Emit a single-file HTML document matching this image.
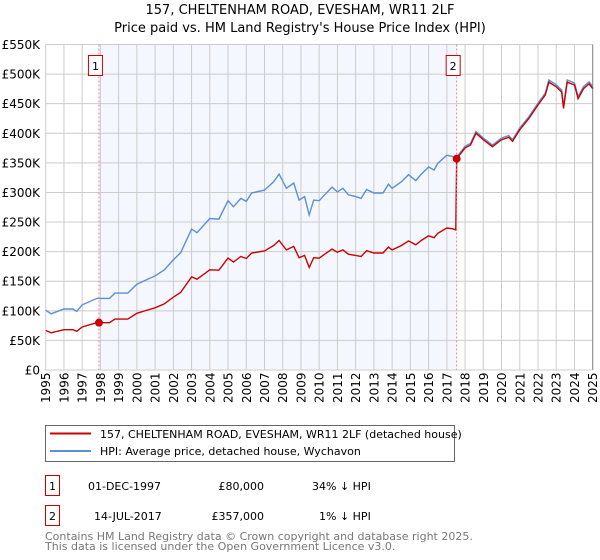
<!DOCTYPE html>
<html><head><meta charset="utf-8"><style>
body{margin:0;background:#fff;width:600px;height:560px;overflow:hidden;font-family:"DejaVu Sans","Liberation Sans",sans-serif}
svg{display:block}
</style></head><body>
<svg id="chart" width="600" height="560" xmlns="http://www.w3.org/2000/svg" font-family="DejaVu Sans, Liberation Sans, sans-serif">
<text x="300" y="14" text-anchor="middle" font-size="13">157, CHELTENHAM ROAD, EVESHAM, WR11 2LF</text>
<text x="300" y="32" text-anchor="middle" font-size="13">Price paid vs. HM Land Registry's House Price Index (HPI)</text>
<g id="plot"></g>
<g>
<rect x="45.5" y="425.5" width="409" height="36" fill="#fff" stroke="#666"/>
<line x1="50" y1="433.5" x2="91" y2="433.5" stroke="#cc0000" stroke-width="2"/>
<text x="100" y="438" font-size="11">157, CHELTENHAM ROAD, EVESHAM, WR11 2LF (detached house)</text>
<line x1="50" y1="451" x2="91" y2="451" stroke="#5b8fd6" stroke-width="2"/>
<text x="100" y="455" font-size="11">HPI: Average price, detached house, Wychavon</text>
</g>
<g font-size="11">
<rect x="45.5" y="475.5" width="14" height="20" fill="#fff" stroke="#cc0000"/>
<text x="52.5" y="490" text-anchor="middle">1</text>
<text x="88" y="490">01-DEC-1997</text>
<text x="264" y="490" text-anchor="end">£80,000</text>
<text x="312" y="490">34% ↓ HPI</text>
<rect x="45.5" y="505.5" width="14" height="20" fill="#fff" stroke="#cc0000"/>
<text x="52.5" y="520" text-anchor="middle">2</text>
<text x="94" y="520">14-JUL-2017</text>
<text x="264" y="520" text-anchor="end">£357,000</text>
<text x="319" y="520">1% ↓ HPI</text>
</g>
<g font-size="11" fill="#777">
<text x="45" y="540">Contains HM Land Registry data © Crown copyright and database right 2025.</text>
<text x="45" y="550">This data is licensed under the Open Government Licence v3.0.</text>
</g>
</svg>
<script>
const hpiYears=[1995,1995.3,1996,1996.5,1996.7,1997,1997.8,1998.5,1998.8,1999.5,2000,2000.5,2001,2001.5,2002,2002.4,2003,2003.3,2004,2004.5,2005,2005.3,2005.7,2006,2006.3,2007,2007.5,2007.8,2008.2,2008.6,2008.9,2009.2,2009.45,2009.7,2010,2010.3,2010.7,2011,2011.3,2011.6,2012,2012.3,2012.6,2013,2013.5,2013.8,2014,2014.5,2014.9,2015.3,2015.6,2016,2016.3,2016.5,2017,2017.3,2017.5,2018,2018.3,2018.6,2019,2019.5,2020,2020.4,2020.6,2021,2021.5,2022,2022.4,2022.6,2023,2023.3,2023.4,2023.6,2024,2024.2,2024.5,2024.8,2025];
const hpiValues=[101,95,103,103,99,110,121,121,130,130,145,152,159,169,186,198,238,232,256,255,286,276,290,285,299,304,318,331,307,316,287,293,262,287,286,296,309,301,307,296,293,290,305,299,299,314,307,318,330,320,331,343,338,349,363,361,358,378,383,403,392,380,392,396,389,409,428,451,468,490,482,473,445,490,485,462,479,487,479];
const saleYears=[1997.92,2017.54];
const salePrices=[80,357];
const yTicks=[0,50,100,150,200,250,300,350,400,450,500,550];
const yTickLabels=["£0","£50K","£100K","£150K","£200K","£250K","£300K","£350K","£400K","£450K","£500K","£550K"];
const xTicks=[1995,1996,1997,1998,1999,2000,2001,2002,2003,2004,2005,2006,2007,2008,2009,2010,2011,2012,2013,2014,2015,2016,2017,2018,2019,2020,2021,2022,2023,2024,2025];

const X0=45.7,X1=592.7,Y0=370,Y1=44.5;
const xs=y=>X0+(y-1995)/30*(X1-X0);
const ys=v=>Y0-v/550*(Y0-Y1);
const NS="http://www.w3.org/2000/svg";
const plot=document.getElementById('plot');
function mk(t,a,p){const e=document.createElementNS(NS,t);for(const k in a)e.setAttribute(k,a[k]);(p||plot).appendChild(e);return e;}
function hpiAt(y){for(let i=1;i<hpiYears.length;i++){if(y<=hpiYears[i]){const t=(y-hpiYears[i-1])/(hpiYears[i]-hpiYears[i-1]);return hpiValues[i-1]+t*(hpiValues[i]-hpiValues[i-1]);}}return hpiValues[hpiValues.length-1];}

const shade=mk('rect',{x:xs(saleYears[0]),y:Y1,width:xs(saleYears[1])-xs(saleYears[0]),height:Y0-Y1,fill:'#f4f7fe'});


const grid=mk('g',{stroke:'#cccccc','stroke-width':1});


yTicks.forEach((v,i)=>{
 mk('line',{x1:X0,x2:X1,y1:ys(v),y2:ys(v)},grid);
 const t=mk('text',{x:40,y:ys(v)+4.5,'text-anchor':'end','font-size':12});
 t.textContent=yTickLabels[i];
 
 
});
xTicks.forEach(y=>{
 mk('line',{x1:xs(y),x2:xs(y),y1:Y1,y2:Y0},grid);
 const t=mk('text',{transform:`translate(${xs(y)+4.5},${Y0+33}) rotate(-90)`,'font-size':12});
 t.textContent=y;
 
 
});
mk('line',{x1:X1,x2:X1,y1:Y1,y2:Y0,stroke:'#888'});
const hp=hpiYears.map((y,i)=>`${xs(y).toFixed(1)},${ys(hpiValues[i]).toFixed(1)}`).join(' ');
const hl=mk('polyline',{points:hp,fill:'none',stroke:'#5b8fd6','stroke-width':1.4});


const pts=[];
const r0=salePrices[0]/hpiAt(saleYears[0]),r1=salePrices[1]/hpiAt(saleYears[1]);
hpiYears.forEach((y,i)=>{if(y<saleYears[1]){pts.push([y,hpiValues[i]*r0]);}});
pts.push([saleYears[1]-0.05,hpiAt(saleYears[1])*r0]);
pts.push([saleYears[1],salePrices[1]]);
hpiYears.forEach((y,i)=>{if(y>saleYears[1])pts.push([y,hpiValues[i]*r1]);});
const pl=mk('polyline',{points:pts.map(p=>`${xs(p[0]).toFixed(1)},${ys(p[1]).toFixed(1)}`).join(' '),fill:'none',stroke:'#cc0000','stroke-width':1.4});


saleYears.forEach((y,i)=>{
 const v=mk('line',{x1:xs(y),x2:xs(y),y1:Y1,y2:Y0,stroke:'#ee8888','stroke-dasharray':'2,2'});
 
 
 const c=mk('circle',{cx:xs(y),cy:ys(salePrices[i]),r:4,fill:'#cc0000'});
 
 
 const b=mk('rect',{x:xs(y)-10.5,y:55.5,width:14,height:20,fill:'#fff',stroke:'#cc0000'});
 
 
 const t=mk('text',{x:xs(y)-3.5,y:70,'text-anchor':'middle','font-size':11});
 t.textContent=String(i+1);
 
 
});
</script>
</body></html>
